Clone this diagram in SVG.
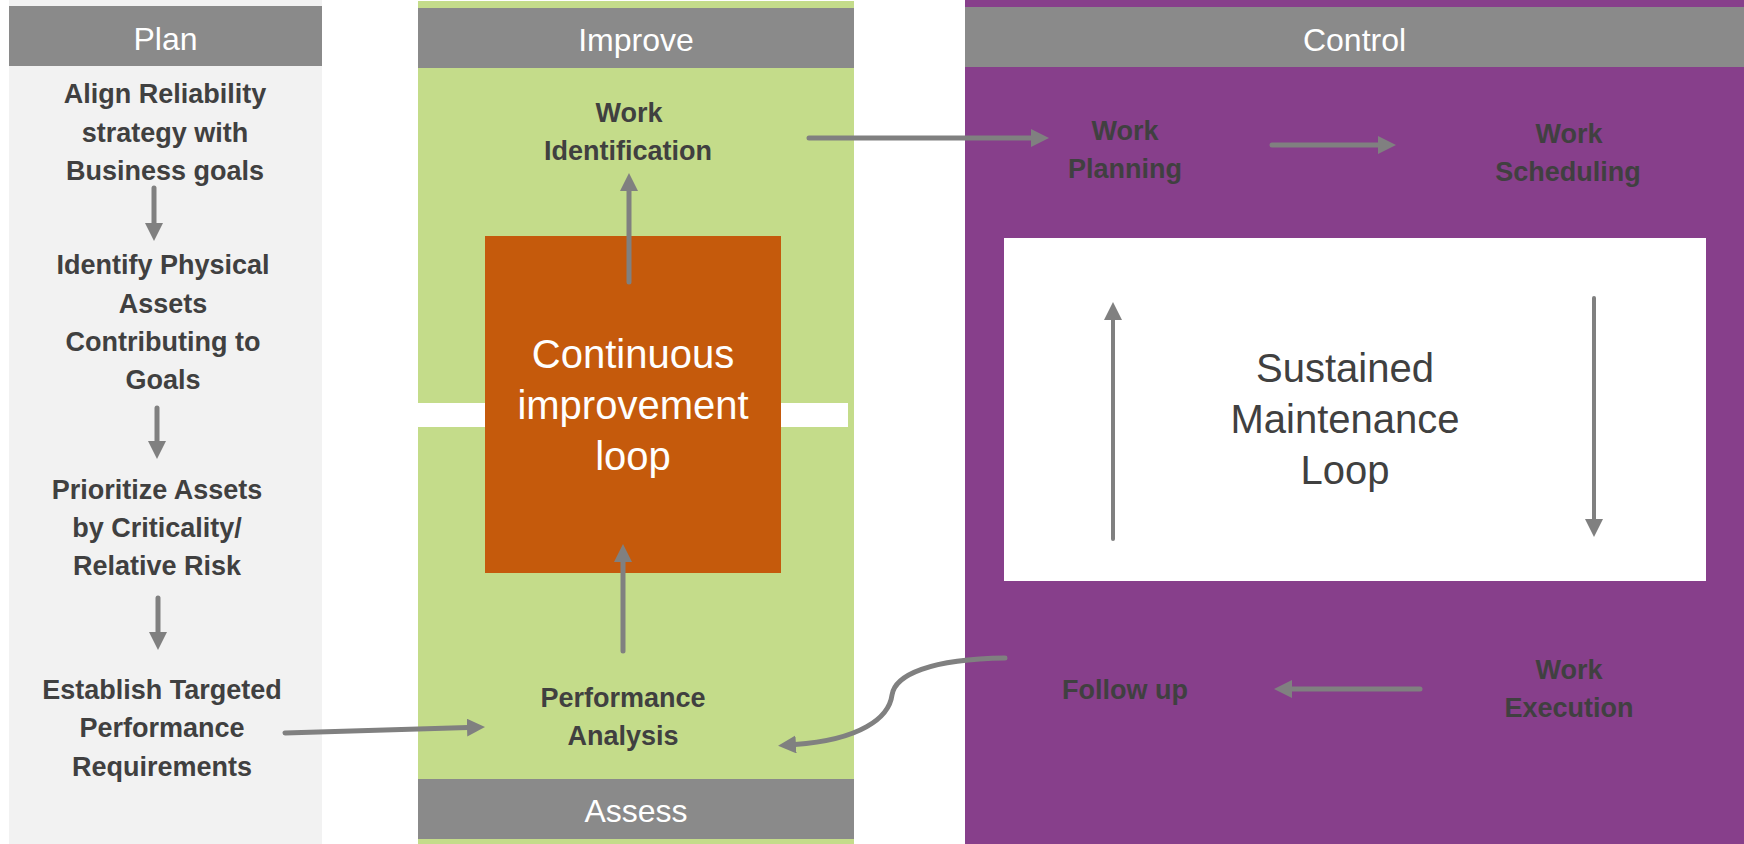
<svg xmlns="http://www.w3.org/2000/svg" width="1744" height="844" viewBox="0 0 1744 844">
<style>
.hdr{fill:#8a8a8a}
.ht{font-family:"Liberation Sans",Arial,sans-serif;font-size:32px;fill:#ffffff;text-anchor:middle}
.nt{font-family:"Liberation Sans",Arial,sans-serif;font-size:27px;font-weight:bold;fill:#404040;text-anchor:middle}
.lt{font-family:"Liberation Sans",Arial,sans-serif;font-size:40px;text-anchor:middle}
.ar{fill:none;stroke:#808080;stroke-width:5;stroke-linecap:round}
.thin{stroke-width:4}
</style>
<defs>
<marker id="ah" markerUnits="userSpaceOnUse" markerWidth="18" markerHeight="18" refX="1" refY="9" orient="auto" viewBox="0 0 18 18">
<path d="M0,0 L18,9 L0,18 z" fill="#808080"/>
</marker>
</defs>
<rect width="1744" height="844" fill="#ffffff"/>
<g id="col-plan">
<rect x="9" y="0" width="313" height="844" fill="#f2f2f2"/>
<rect class="hdr" x="9" y="6" width="313" height="60"/>
<text class="ht" x="165.5" y="50">Plan</text>
</g>
<g id="col-improve">
<rect x="418" y="1" width="436" height="843" fill="#c4dc8a"/>
<rect x="418" y="403" width="430" height="24" fill="#ffffff"/>
<rect class="hdr" x="418" y="8" width="436" height="60"/>
<text class="ht" x="636" y="51">Improve</text>
<rect class="hdr" x="418" y="779" width="436" height="60"/>
<text class="ht" x="636" y="822">Assess</text>
</g>
<g id="col-control">
<rect x="965" y="0" width="779" height="844" fill="#873f8b"/>
<rect class="hdr" x="965" y="7" width="779" height="60"/>
<text class="ht" x="1354.5" y="51">Control</text>
</g>
<g id="node-align">
<text class="nt" x="165" y="103">Align Reliability</text>
<text class="nt" x="165" y="141.5">strategy with</text>
<text class="nt" x="165" y="180">Business goals</text>
</g>
<g id="node-identify">
<text class="nt" x="163" y="274">Identify Physical</text>
<text class="nt" x="163" y="313">Assets</text>
<text class="nt" x="163" y="351">Contributing to</text>
<text class="nt" x="163" y="389">Goals</text>
</g>
<g id="node-prioritize">
<text class="nt" x="157" y="499">Prioritize Assets</text>
<text class="nt" x="157" y="537">by Criticality/</text>
<text class="nt" x="157" y="575">Relative Risk</text>
</g>
<g id="node-establish">
<text class="nt" x="162" y="699">Establish Targeted</text>
<text class="nt" x="162" y="737">Performance</text>
<text class="nt" x="162" y="776">Requirements</text>
</g>
<g id="node-continuous">
<rect x="485" y="236" width="296" height="337" fill="#c55a0c"/>
<text class="lt" x="633" y="368" fill="#ffffff">Continuous</text>
<text class="lt" x="633" y="419" fill="#ffffff">improvement</text>
<text class="lt" x="633" y="470" fill="#ffffff">loop</text>
</g>
<g id="node-sustained">
<rect x="1004" y="238" width="702" height="343" fill="#ffffff"/>
<text class="lt" x="1345" y="382" fill="#404040">Sustained</text>
<text class="lt" x="1345" y="433" fill="#404040">Maintenance</text>
<text class="lt" x="1345" y="484" fill="#404040">Loop</text>
</g>
<g id="node-work-id">
<text class="nt" x="629" y="122">Work</text>
<text class="nt" x="628" y="160">Identification</text>
</g>
<g id="node-perf">
<text class="nt" x="623" y="707">Performance</text>
<text class="nt" x="623" y="745">Analysis</text>
</g>
<g id="node-work-plan">
<text class="nt" x="1125" y="140">Work</text>
<text class="nt" x="1125" y="178">Planning</text>
</g>
<g id="node-work-sched">
<text class="nt" x="1569" y="143">Work</text>
<text class="nt" x="1568" y="181">Scheduling</text>
</g>
<g id="node-work-exec">
<text class="nt" x="1569" y="679">Work</text>
<text class="nt" x="1569" y="717">Execution</text>
</g>
<g id="node-follow">
<text class="nt" x="1125" y="699">Follow up</text>
</g>
<g id="connectors">
<path class="ar" d="M154,188 L154,224" marker-end="url(#ah)"/>
<path class="ar" d="M157,408 L157,442" marker-end="url(#ah)"/>
<path class="ar" d="M158,598 L158,633" marker-end="url(#ah)"/>
<path class="ar" d="M285,733 L468,727.5" marker-end="url(#ah)"/>
<path class="ar" d="M629,282 L629,190" marker-end="url(#ah)"/>
<path class="ar" d="M623,651 L623,561" marker-end="url(#ah)"/>
<path class="ar" d="M809,138 L1032,138" marker-end="url(#ah)"/>
<path class="ar" d="M1272,145 L1379,145" marker-end="url(#ah)"/>
<path class="ar thin" d="M1113,539 L1113,319" marker-end="url(#ah)"/>
<path class="ar thin" d="M1594,298 L1594,520" marker-end="url(#ah)"/>
<path class="ar" d="M1420,689 L1291,689" marker-end="url(#ah)"/>
<path class="ar" d="M1005,658 C930,659 895,675 892,695 C889,718 860,740 795,744.5" marker-end="url(#ah)"/>
</g>
</svg>
